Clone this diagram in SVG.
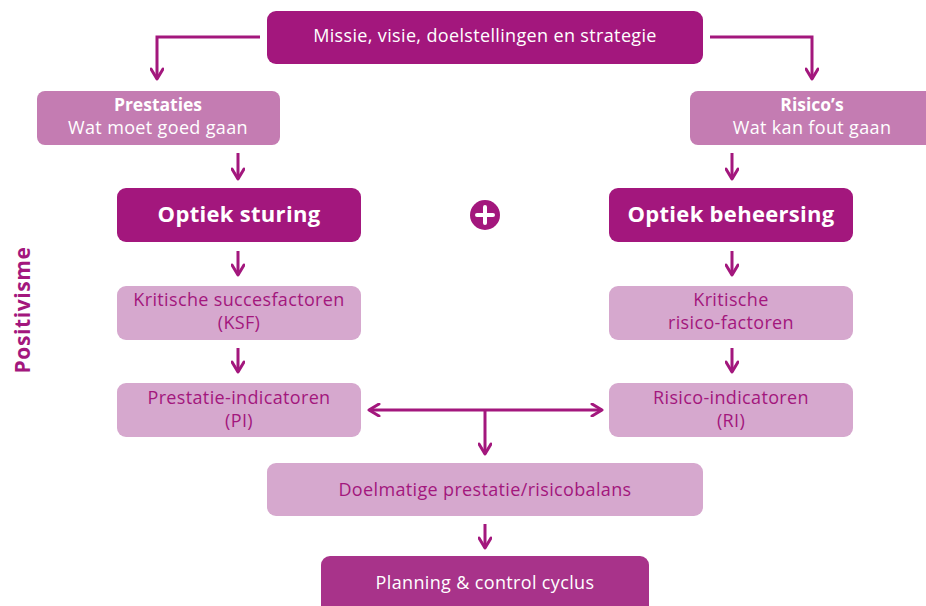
<svg xmlns="http://www.w3.org/2000/svg" width="926" height="606" viewBox="0 0 926 606">
<defs>
<style>
.dark{fill:#A3177D}
.mid{fill:#C47CB2}
.light{fill:#D6A8CE}
.plan{fill:#A8338A}
text{font-family:"Open Sans","Noto Sans","Liberation Sans",sans-serif;text-anchor:middle}
.w{fill:#ffffff;font-size:18px;letter-spacing:0.35px}
.wb{fill:#ffffff;font-size:17.5px;font-weight:bold}
.big{fill:#ffffff;font-size:22px;font-weight:bold;letter-spacing:0.3px}
.p{fill:#A3177D;font-size:18px;letter-spacing:0.35px}
.con{fill:none;stroke:#A3177D;stroke-width:3}
</style>
<marker id="ah" viewBox="0 0 14 14" refX="12" refY="7" markerWidth="14" markerHeight="14" markerUnits="userSpaceOnUse" orient="auto-start-reverse">
<path d="M2,1 L12,7 L2,13" fill="none" stroke="#A3177D" stroke-width="3" stroke-linecap="round" stroke-linejoin="round"/>
</marker>
</defs>
<rect width="926" height="606" fill="#ffffff"/>
<g id="connectors">
<path class="con" d="M260,37 H157 V79" marker-end="url(#ah)"/>
<path class="con" d="M710,37 H812 V79" marker-end="url(#ah)"/>
<path class="con" d="M238,153 V179" marker-end="url(#ah)"/>
<path class="con" d="M732,153 V179" marker-end="url(#ah)"/>
<path class="con" d="M238,251 V275" marker-end="url(#ah)"/>
<path class="con" d="M732,251 V275" marker-end="url(#ah)"/>
<path class="con" d="M238,348 V372" marker-end="url(#ah)"/>
<path class="con" d="M732,348 V372" marker-end="url(#ah)"/>
<path class="con" d="M369,410 H602" marker-start="url(#ah)" marker-end="url(#ah)"/>
<path class="con" d="M485,410 V454" marker-end="url(#ah)"/>
<path class="con" d="M485,524 V548" marker-end="url(#ah)"/>
</g>
<g id="missie">
<rect class="dark" x="267" y="11" width="436" height="53" rx="9"/>
<text class="w" x="485" y="42">Missie, visie, doelstellingen en strategie</text>
</g>
<g id="prestaties">
<rect class="mid" x="37" y="91" width="243" height="54" rx="8"/>
<text class="wb" x="158" y="111">Prestaties</text>
<text class="w" x="158" y="134">Wat moet goed gaan</text>
</g>
<g id="risicos">
<rect class="mid" x="690" y="91" width="246" height="54" rx="8"/>
<text class="wb" x="812" y="111">Risico’s</text>
<text class="w" x="812" y="134">Wat kan fout gaan</text>
</g>
<g id="sturing">
<rect class="dark" x="117" y="188" width="244" height="54" rx="9"/>
<text class="big" x="239" y="222">Optiek sturing</text>
</g>
<g id="plus">
<circle class="dark" cx="485" cy="215" r="15"/>
<path d="M485,207 V223 M477,215 H493" stroke="#ffffff" stroke-width="4" stroke-linecap="round"/>
</g>
<g id="beheersing">
<rect class="dark" x="609" y="188" width="244" height="54" rx="9"/>
<text class="big" x="731" y="222">Optiek beheersing</text>
</g>
<g id="ksf">
<rect class="light" x="117" y="286" width="244" height="54" rx="9"/>
<text class="p" x="239" y="306">Kritische succesfactoren</text>
<text class="p" x="239" y="329">(KSF)</text>
</g>
<g id="krf">
<rect class="light" x="609" y="286" width="244" height="54" rx="9"/>
<text class="p" x="731" y="306">Kritische</text>
<text class="p" x="731" y="329">risico-factoren</text>
</g>
<g id="pi">
<rect class="light" x="117" y="383" width="244" height="54" rx="9"/>
<text class="p" x="239" y="404">Prestatie-indicatoren</text>
<text class="p" x="239" y="427">(PI)</text>
</g>
<g id="ri">
<rect class="light" x="609" y="383" width="244" height="54" rx="9"/>
<text class="p" x="731" y="404">Risico-indicatoren</text>
<text class="p" x="731" y="427">(RI)</text>
</g>
<g id="balans">
<rect class="light" x="267" y="463" width="436" height="53" rx="9"/>
<text class="p" x="485" y="496">Doelmatige prestatie/risicobalans</text>
</g>
<g id="planning">
<rect class="plan" x="321" y="556" width="328" height="62" rx="9"/>
<text class="w" x="485" y="589">Planning &amp; control cyclus</text>
</g>
<g id="positivisme">
<text transform="translate(30,310) rotate(-90)" fill="#A3177D" font-size="21" font-weight="bold" letter-spacing="0.6">Positivisme</text>
</g>
</svg>
